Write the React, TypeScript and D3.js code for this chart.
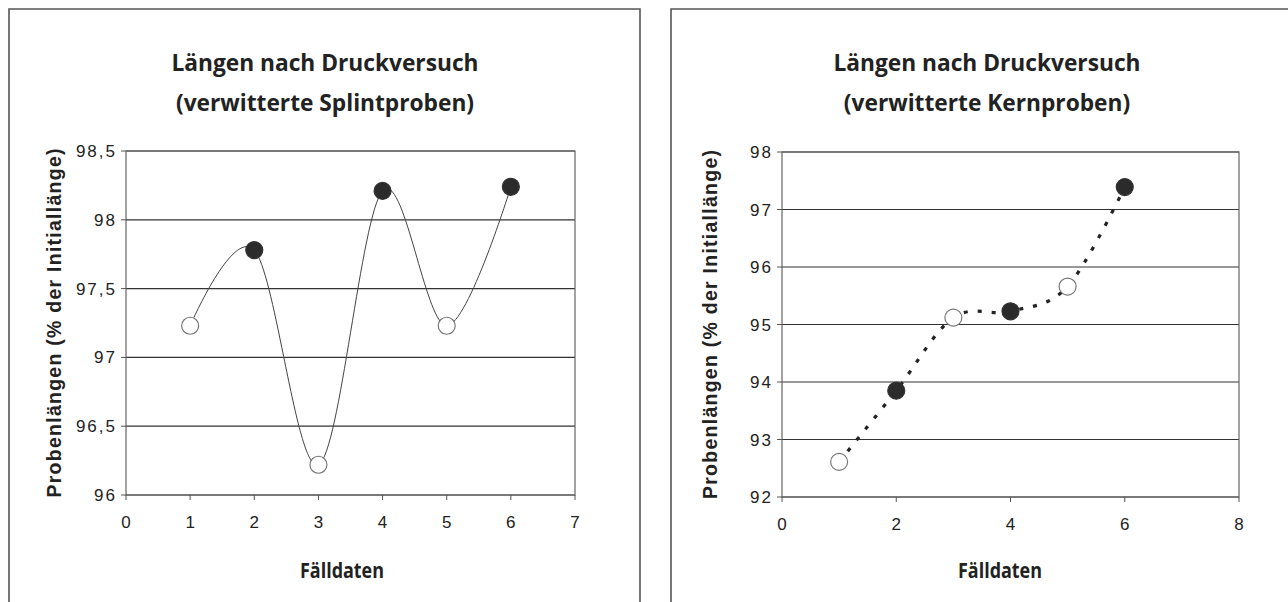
import React from "react";
import * as d3 from "d3";

// ---- data ----
const fellDates = [1, 2, 3, 4, 5, 6];
const splintLengths = [97.23, 97.78, 96.22, 98.21, 97.23, 98.24];
const kernLengths = [92.61, 93.85, 95.12, 95.23, 95.66, 97.39];
const markerFilled = [false, true, false, true, false, true];

const titleLine1 = "Längen nach Druckversuch";
const splintTitle2 = "(verwitterte Splintproben)";
const kernTitle2 = "(verwitterte Kernproben)";
const yAxisTitle = "Probenlängen (% der Initiallänge)";
const xAxisTitle = "Fälldaten";

const splintYTicks = [96, 96.5, 97, 97.5, 98, 98.5];
const splintXTicks = [0, 1, 2, 3, 4, 5, 6, 7];
const kernYTicks = [92, 93, 94, 95, 96, 97, 98];
const kernXTicks = [0, 2, 4, 6, 8];

const fmt = (v: number) => String(v).replace(".", ",");

type ChartProps = {
  box: { x0: number; x1: number; y0: number };
  plot: { x0: number; x1: number; y0: number; y1: number };
  titleX: number;
  xTitleX: number;
  title2: string;
  values: number[];
  xTicks: number[];
  yTicks: number[];
  dotted: boolean;
};

function Chart(p: ChartProps) {
  const x = d3
    .scaleLinear()
    .domain([p.xTicks[0], p.xTicks[p.xTicks.length - 1]])
    .range([p.plot.x0, p.plot.x1]);
  const y = d3
    .scaleLinear()
    .domain([p.yTicks[0], p.yTicks[p.yTicks.length - 1]])
    .range([p.plot.y1, p.plot.y0]);
  const pts: [number, number][] = fellDates.map((d, i) => [x(d), y(p.values[i])]);
  const line = d3.line().curve(d3.curveCatmullRom.alpha(0))(pts) || "";
  const tickFont = "'Liberation Sans', Arial, sans-serif";
  const titleFont = "'Open Sans', 'Noto Sans', sans-serif";
  const yMid = (p.plot.y0 + p.plot.y1) / 2;
  const titleScale = 0.947;
  return (
    <g>
      {/* outer frame */}
      <path
        d={`M${p.box.x0},640 V${p.box.y0} H${p.box.x1} V640`}
        fill="none"
        stroke="#555"
        strokeWidth={1.6}
      />
      {/* titles */}
      <text
        transform={`translate(${p.titleX},71) scale(${titleScale},1)`}
        textAnchor="middle"
        fontFamily={titleFont}
        fontWeight={700}
        fontSize={24}
        fill="#222"
      >
        {titleLine1}
      </text>
      <text
        transform={`translate(${p.titleX},111) scale(${titleScale},1)`}
        textAnchor="middle"
        fontFamily={titleFont}
        fontWeight={700}
        fontSize={24}
        fill="#222"
      >
        {p.title2}
      </text>
      {/* gridlines */}
      {p.yTicks.map((t) => (
        <line key={"g" + t} x1={p.plot.x0} x2={p.plot.x1} y1={y(t)} y2={y(t)} stroke="#333" strokeWidth={1.2} />
      ))}
      {/* plot border */}
      <rect
        x={p.plot.x0}
        y={p.plot.y0}
        width={p.plot.x1 - p.plot.x0}
        height={p.plot.y1 - p.plot.y0}
        fill="none"
        stroke="#666"
        strokeWidth={1.2}
      />
      {/* y ticks */}
      {p.yTicks.map((t) => (
        <g key={"y" + t}>
          <line x1={p.plot.x0 - 5} x2={p.plot.x0} y1={y(t)} y2={y(t)} stroke="#555" strokeWidth={1} />
          <text
            x={p.plot.x0 - 9}
            y={y(t) + 6}
            textAnchor="end"
            fontFamily={tickFont}
            fontSize={17}
            letterSpacing={2}
            fill="#222"
          >
            {fmt(t)}
          </text>
        </g>
      ))}
      {/* x ticks */}
      {p.xTicks.map((t) => (
        <g key={"x" + t}>
          <line x1={x(t)} x2={x(t)} y1={p.plot.y1} y2={p.plot.y1 + 5} stroke="#555" strokeWidth={1} />
          <text x={x(t)} y={p.plot.y1 + 33} textAnchor="middle" fontFamily={tickFont} fontSize={17} fill="#222">
            {fmt(t)}
          </text>
        </g>
      ))}
      {/* axis titles */}
      <text
        transform={`translate(${p.plot.x0 - 65},${yMid}) rotate(-90)`}
        textAnchor="middle"
        fontFamily={tickFont}
        fontWeight={700}
        fontSize={19.5}
        textLength={349}
        lengthAdjust="spacing"
        fill="#222"
      >
        {yAxisTitle}
      </text>
      <text
        x={p.xTitleX}
        y={578}
        textAnchor="middle"
        fontFamily={titleFont}
        fontWeight={700}
        fontSize={21}
        textLength={84}
        lengthAdjust="spacingAndGlyphs"
        fill="#222"
      >
        {xAxisTitle}
      </text>
      {/* series line */}
      {p.dotted ? (
        <path d={line} fill="none" stroke="#222" strokeWidth={3.2} strokeDasharray="4 10" />
      ) : (
        <path d={line} fill="none" stroke="#444" strokeWidth={1} />
      )}
      {/* markers */}
      {pts.map(([px, py], i) => (
        <circle
          key={"m" + i}
          cx={px}
          cy={py}
          r={8.5}
          fill={markerFilled[i] ? "#2b2b2b" : "#fff"}
          stroke={markerFilled[i] ? "#333" : "#777"}
          strokeWidth={1.2}
        />
      ))}
    </g>
  );
}

export default function App() {
  return (
    <svg
      width={1288}
      height={602}
      style={{ position: "absolute", left: 0, top: 0, background: "#fff" }}
    >
      <rect x={0} y={0} width={1288} height={602} fill="#fff" />
      <Chart
        box={{ x0: 9, x1: 640, y0: 9 }}
        plot={{ x0: 126, x1: 575, y0: 151, y1: 495 }}
        titleX={325}
        xTitleX={342}
        title2={splintTitle2}
        values={splintLengths}
        xTicks={splintXTicks}
        yTicks={splintYTicks}
        dotted={false}
      />
      <Chart
        box={{ x0: 671, x1: 1320, y0: 9 }}
        plot={{ x0: 782, x1: 1239, y0: 152, y1: 497 }}
        titleX={987}
        xTitleX={1000}
        title2={kernTitle2}
        values={kernLengths}
        xTicks={kernXTicks}
        yTicks={kernYTicks}
        dotted={true}
      />
    </svg>
  );
}
